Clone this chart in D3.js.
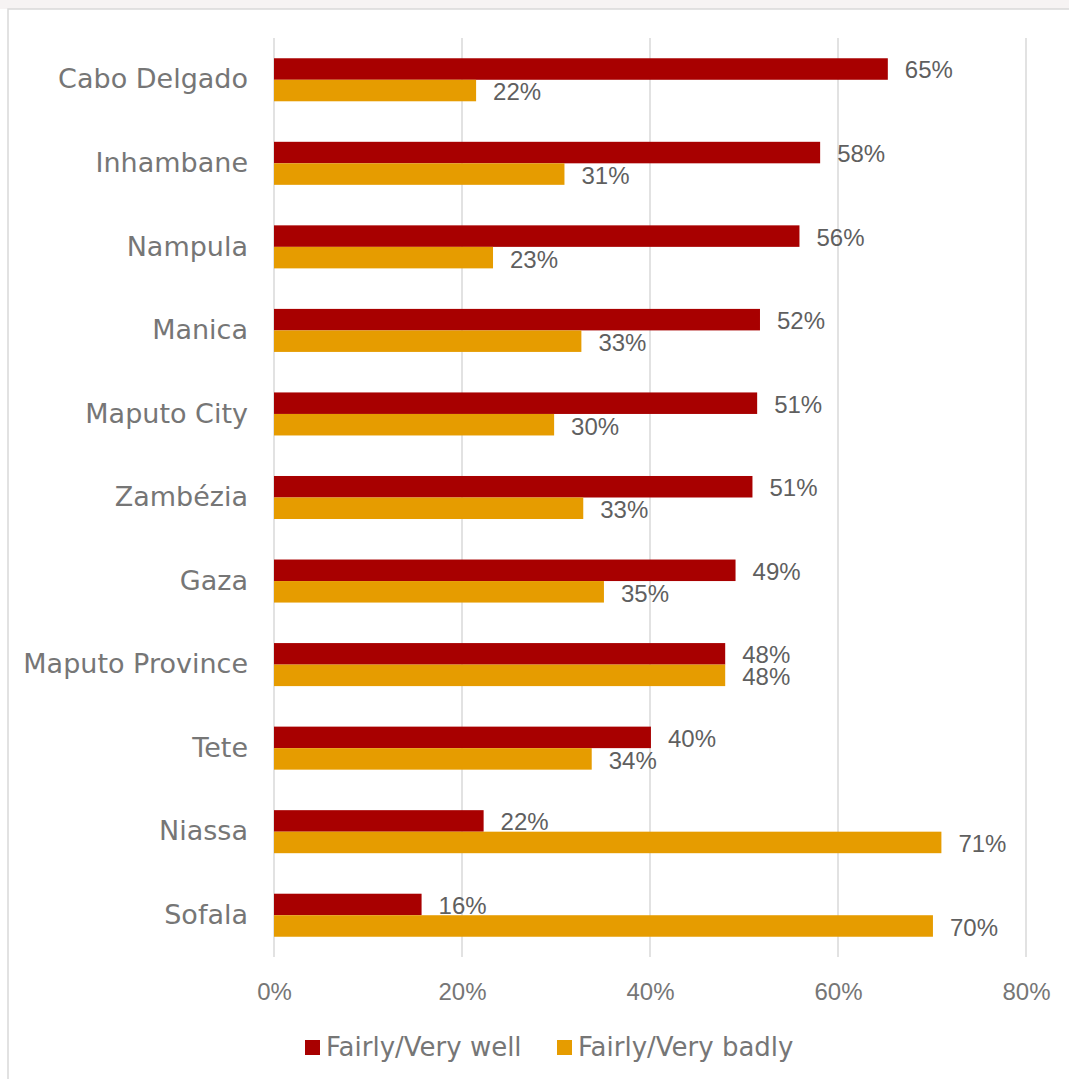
<!DOCTYPE html>
<html>
<head>
<meta charset="utf-8">
<script src="https://cdn.jsdelivr.net/npm/d3@7"></script>
<style>
  body { margin: 0; background: #fff; }
  text { font-family: "DejaVu Sans", sans-serif; }
  .num { font-family: "Liberation Sans", Arial, sans-serif; }
</style>
</head>
<body>
<div id="chart"></div>
<script>
// provinces, top to bottom
var provinces = ["Cabo Delgado", "Inhambane", "Nampula", "Manica", "Maputo City", "Zambézia",
                 "Gaza", "Maputo Province", "Tete", "Niassa", "Sofala"];
var wellValues = [65.3, 58.1, 55.9, 51.7, 51.4, 50.9, 49.1, 48.0, 40.1, 22.3, 15.7];
var badlyValues = [21.5, 30.9, 23.3, 32.7, 29.8, 32.9, 35.1, 48.0, 33.8, 71.0, 70.1];
var seriesNames = ["Fairly/Very well", "Fairly/Very badly"];
var seriesColors = ["#a80000", "#e69c00"];
var xTicks = [0, 20, 40, 60, 80];

var width = 1069, height = 1079;
var margin = {top: 38, right: 43, bottom: 122, left: 274};

var svg = d3.select("#chart").append("svg")
    .attr("width", width)
    .attr("height", height);

// faint strip above the frame
svg.append("rect")
    .attr("x", 0).attr("y", 0)
    .attr("width", width).attr("height", 9)
    .attr("fill", "#f6f3f3");

// chart frame
svg.append("rect")
    .attr("x", 8).attr("y", 9)
    .attr("width", width + 10).attr("height", height + 10)
    .attr("fill", "#fff")
    .attr("stroke", "#d9d9d9")
    .attr("stroke-width", 1.5);

var x = d3.scaleLinear().domain([0, 80]).range([margin.left, width - margin.right]);
var y = d3.scaleBand().domain(provinces).range([margin.top, height - margin.bottom]).paddingInner(0.485).paddingOuter(0.2425);
var ySub = d3.scaleBand().domain([0, 1]).range([0, y.bandwidth()]);

// gridlines
svg.append("g").selectAll("line")
    .data(xTicks)
    .enter().append("line")
    .attr("x1", function (d) { return x(d); })
    .attr("x2", function (d) { return x(d); })
    .attr("y1", margin.top)
    .attr("y2", height - margin.bottom)
    .attr("stroke", "#d9d9d9")
    .attr("stroke-width", 1.5);

// x axis labels
var xAxis = d3.axisBottom(x).tickValues(xTicks).tickSize(0).tickPadding(0)
    .tickFormat(function (d) { return d + "%"; });
var gx = svg.append("g")
    .attr("transform", "translate(0," + (height - margin.bottom) + ")")
    .call(xAxis);
gx.select(".domain").remove();
gx.selectAll("text")
    .attr("class", "num")
    .attr("dy", "0.35em")
    .attr("y", 35)
    .attr("fill", "#767676")
    .style("font-size", "24px");

// y axis labels
var yAxis = d3.axisLeft(y).tickSize(0).tickPadding(26);
var gy = svg.append("g")
    .attr("transform", "translate(" + margin.left + ",0)")
    .call(yAxis);
gy.select(".domain").remove();
gy.selectAll("text")
    .attr("fill", "#767676")
    .style("font-size", "27px");

var series = [wellValues, badlyValues];

series.forEach(function (vals, s) {
    var g = svg.append("g");
    g.selectAll("rect")
        .data(vals)
        .enter().append("rect")
        .attr("x", x(0))
        .attr("y", function (d, i) { return y(provinces[i]) + ySub(s); })
        .attr("width", function (d) { return x(d) - x(0); })
        .attr("height", ySub.bandwidth())
        .attr("fill", seriesColors[s]);

    g.selectAll("text")
        .data(vals)
        .enter().append("text")
        .attr("class", "num")
        .attr("x", function (d) { return x(d) + 17; })
        .attr("y", function (d, i) { return y(provinces[i]) + ySub(s) + ySub.bandwidth() / 2 + (s === 0 ? 1 : 1.5); })
        .attr("dy", "0.35em")
        .attr("fill", "#5f5f5f")
        .style("font-size", "24px")
        .text(function (d) { return Math.round(d) + "%"; });
});

// legend
var legend = svg.append("g").attr("transform", "translate(0,1047)");
var legendX = [305, 557];
seriesNames.forEach(function (name, s) {
    legend.append("rect")
        .attr("x", legendX[s]).attr("y", -7)
        .attr("width", 15).attr("height", 15)
        .attr("fill", seriesColors[s]);
    legend.append("text")
        .attr("x", legendX[s] + 21)
        .attr("y", 0)
        .attr("dy", "0.35em")
        .attr("fill", "#767676")
        .style("font-size", "26px")
        .text(name);
});
</script>
</body>
</html>
